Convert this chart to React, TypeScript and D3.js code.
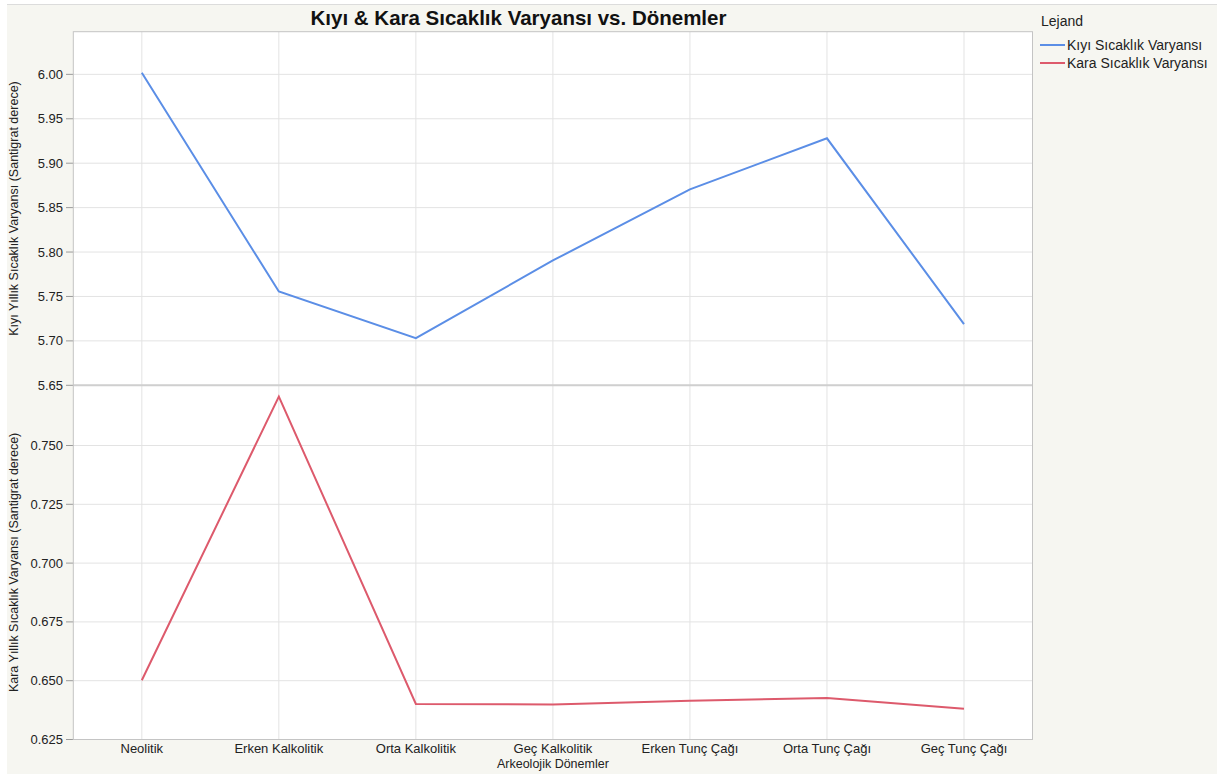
import React from "react";
import * as d3 from "d3";

const periods = ["Neolitik", "Erken Kalkolitik", "Orta Kalkolitik", "Geç Kalkolitik", "Erken Tunç Çağı", "Orta Tunç Çağı", "Geç Tunç Çağı"];
const coastVar = [6.0017, 5.7556, 5.703, 5.7905, 5.8705, 5.928, 5.7188];
const landVar = [0.6502, 0.7708, 0.6401, 0.6399, 0.6415, 0.6426, 0.6381];
const coastTicks = [5.65, 5.7, 5.75, 5.8, 5.85, 5.9, 5.95, 6.0];
const landTicks = [0.625, 0.65, 0.675, 0.7, 0.725, 0.75];

const W = 1217, H = 774;
const L = 73.3, R = 1032.5, T = 31.7, MID = 385.3, B = 739.5;
const BLUE = "#5b8ee6";
const RED = "#dd5a6c";
const FONT = "'Liberation Sans', Arial, Helvetica, sans-serif";

export default function App() {
  const x = d3.scalePoint<string>().domain(periods).range([L, R]).padding(0.5);
  const yTop = d3.scaleLinear().domain([5.65, 6.048]).range([MID, T]);
  const yBot = d3.scaleLinear().domain([0.625, 0.7756]).range([B, MID]);
  const lineTop = d3.line<number>().x((_, i) => x(periods[i])!).y((d) => yTop(d));
  const lineBot = d3.line<number>().x((_, i) => x(periods[i])!).y((d) => yBot(d));
  const grid = "#e3e3e3";
  return (
    <svg width={W} height={H} style={{ position: "absolute", left: 0, top: 0, fontFamily: FONT }}>
      <rect x={0} y={0} width={W} height={H} fill="#ffffff" />
      <rect x={7} y={4} width={W - 7} height={H - 4} fill="#f6f6f1" />
      <line x1={7} x2={W} y1={4.5} y2={4.5} stroke="#dcdcdc" />
      <rect x={L} y={T} width={R - L} height={B - T} fill="#ffffff" />
      {periods.map((p) => (
        <line key={p} x1={x(p)} x2={x(p)} y1={T} y2={B} stroke={grid} strokeWidth={1} />
      ))}
      {coastTicks.map((t) => (
        <g key={"ct" + t}>
          <line x1={L} x2={R} y1={yTop(t)} y2={yTop(t)} stroke={grid} />
          <line x1={66} x2={L} y1={yTop(t)} y2={yTop(t)} stroke="#9a9a9a" />
          <text x={63} y={yTop(t)} dy="0.35em" textAnchor="end" fontSize={13} fill="#222">{t.toFixed(2)}</text>
        </g>
      ))}
      {landTicks.map((t) => (
        <g key={"lt" + t}>
          <line x1={L} x2={R} y1={yBot(t)} y2={yBot(t)} stroke={grid} />
          <line x1={66} x2={L} y1={yBot(t)} y2={yBot(t)} stroke="#9a9a9a" />
          <text x={63} y={yBot(t)} dy="0.35em" textAnchor="end" fontSize={13} fill="#222">{t.toFixed(3)}</text>
        </g>
      ))}
      <line x1={L} x2={R} y1={MID} y2={MID} stroke="#cfcfcf" strokeWidth={2} />
      <rect x={L} y={T} width={R - L} height={B - T} fill="none" stroke="#c4c4c4" strokeWidth={1} />
      <path d={lineTop(coastVar)!} fill="none" stroke={BLUE} strokeWidth={2} />
      <path d={lineBot(landVar)!} fill="none" stroke={RED} strokeWidth={2} />
      {periods.map((p) => (
        <text key={"xl" + p} x={x(p)} y={753} textAnchor="middle" fontSize={13} fill="#222">{p}</text>
      ))}
      <text x={(L + R) / 2} y={768} textAnchor="middle" fontSize={12.5} fill="#222">Arkeolojik Dönemler</text>
      <text transform={`translate(18,${(T + MID) / 2}) rotate(-90)`} textAnchor="middle" fontSize={12.5} fill="#222">Kıyı Yıllık Sıcaklık Varyansı (Santigrat derece)</text>
      <text transform={`translate(18,${(MID + B) / 2}) rotate(-90)`} textAnchor="middle" fontSize={12.5} fill="#222">Kara Yıllık Sıcaklık Varyansı (Santigrat derece)</text>
      <text x={518.5} y={25} textAnchor="middle" fontSize={20.5} fontWeight="bold" fill="#111">Kıyı &amp; Kara Sıcaklık Varyansı vs. Dönemler</text>
      <text x={1041} y={26} fontSize={14} fill="#222">Lejand</text>
      <line x1={1040} x2={1065} y1={45} y2={45} stroke={BLUE} strokeWidth={2} />
      <text x={1067} y={45} dy="0.35em" fontSize={14} fill="#222">Kıyı Sıcaklık Varyansı</text>
      <line x1={1040} x2={1065} y1={63} y2={63} stroke={RED} strokeWidth={2} />
      <text x={1067} y={63} dy="0.35em" fontSize={14} fill="#222">Kara Sıcaklık Varyansı</text>
    </svg>
  );
}
